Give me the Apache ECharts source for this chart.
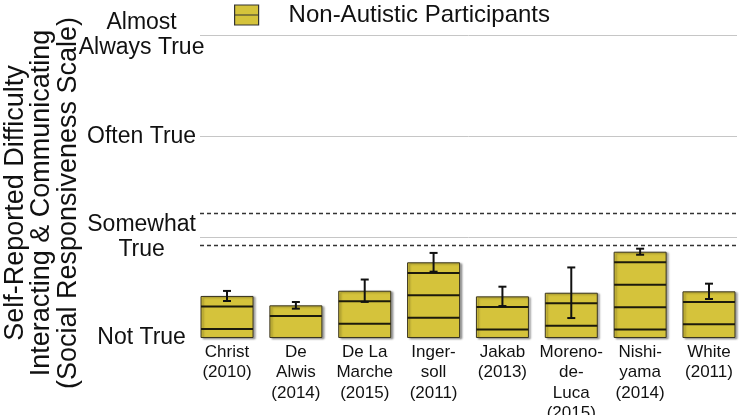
<!DOCTYPE html>
<html>
<head>
<meta charset="utf-8">
<script src="https://cdn.jsdelivr.net/npm/echarts@6/dist/echarts.min.js"></script>
<style>
html,body{margin:0;padding:0;background:#fff;}
#chart{width:739px;height:415px;}
</style>
</head>
<body>
<div id="chart"></div>
<script>
// ---- data ----
const seriesName = 'Non-Autistic Participants';
const categories = ['Christ\n(2010)', 'De\nAlwis\n(2014)', 'De La\nMarche\n(2015)', 'Inger-\nsoll\n(2011)', 'Jakab\n(2013)', 'Moreno-\nde-\nLuca\n(2015)', 'Nishi-\nyama\n(2014)', 'White\n(2011)'];
const means = [0.417, 0.324, 0.469, 0.751, 0.413, 0.449, 0.856, 0.463];
const errors = [0.05, 0.033, 0.111, 0.093, 0.096, 0.251, 0.03, 0.076];
const yTickLabels = ['Not True', 'Somewhat\nTrue', 'Often True', 'Almost\nAlways True'];
const gridValues = [1, 2, 3];
const thresholdValues = [0.918, 1.235];
const yTitle = 'Self-Reported Difficulty\nInteracting & Communicating\n(Social Responsiveness Scale)';

// ---- style constants ----
const FONT = '"Liberation Sans", Arial, Helvetica, sans-serif';
const BAR_FRACTION = 0.77;
const STRIPE_OFFSET = 0.105;
const STRIPE_STEP = 0.2225;
const STRIPE_MIN = 0.04;
const LINE_X0 = 200, LINE_X1 = 737;

const chart = echarts.init(document.getElementById('chart'), null, {renderer: 'canvas'});

function renderOverlay(params, api) {
  const i = api.value(0), v = api.value(1), e = api.value(2);
  const c = api.coord([i, 0]);
  const bw = api.size([1, 0])[0] * BAR_FRACTION;
  const x0 = c[0] - bw / 2 + 0.5, x1 = c[0] + bw / 2 - 0.5;
  const children = [];
  for (let y = v - STRIPE_OFFSET; y > STRIPE_MIN; y -= STRIPE_STEP) {
    const p = api.coord([i, y]);
    children.push({type: 'line', shape: {x1: x0, y1: p[1], x2: x1, y2: p[1]}, style: {stroke: '#1c1a0c', lineWidth: 2}});
  }
  const pt = api.coord([i, v + e]), pb = api.coord([i, v - e]);
  const cap = 4;
  children.push({type: 'line', shape: {x1: c[0], y1: pt[1], x2: c[0], y2: pb[1]}, style: {stroke: '#111', lineWidth: 2}});
  children.push({type: 'line', shape: {x1: c[0] - cap, y1: pt[1], x2: c[0] + cap, y2: pt[1]}, style: {stroke: '#111', lineWidth: 2}});
  children.push({type: 'line', shape: {x1: c[0] - cap, y1: pb[1], x2: c[0] + cap, y2: pb[1]}, style: {stroke: '#111', lineWidth: 2}});
  return {type: 'group', children: children};
}

const markData = [];
gridValues.forEach(v => markData.push([{x: LINE_X0, yAxis: v, lineStyle: {color: '#c6c6c6', width: 1, type: 'solid'}}, {x: LINE_X1, yAxis: v}]));
thresholdValues.forEach(v => markData.push([{x: LINE_X0, yAxis: v, lineStyle: {color: '#333', width: 1.3, type: [4, 3]}}, {x: LINE_X1, yAxis: v}]));

const option = {
  animation: false,
  backgroundColor: '#fff',
  textStyle: {fontFamily: FONT},
  grid: {left: 192.6, right: -4.4, top: 35.6, bottom: 77, outerBoundsMode: 'none', containLabel: false},
  legend: {
    data: [seriesName], left: 234, top: 3, padding: 0,
    icon: 'path://M0,0H24V20H0ZM0,10H24',
    itemWidth: 24, itemHeight: 20,
    itemStyle: {borderColor: '#333', borderWidth: 1.2, shadowBlur: 0, shadowOffsetX: 0, shadowOffsetY: 0},
    textStyle: {fontSize: 24, color: '#111', fontFamily: FONT, padding: [0, 0, 0, 25]}
  },
  graphic: [{
    type: 'text', x: 42, y: 203, rotation: Math.PI / 2,
    style: {text: yTitle, fontSize: 27, lineHeight: 26.5, fontFamily: FONT, fill: '#111', align: 'center', verticalAlign: 'middle'}
  }],
  xAxis: {
    type: 'category', data: categories,
    axisLine: {show: false}, axisTick: {show: false},
    axisLabel: {interval: 0, fontSize: 17, lineHeight: 20.5, color: '#111', margin: 4, fontFamily: FONT}
  },
  yAxis: {
    type: 'value', min: 0, max: 3, interval: 1,
    splitLine: {show: false}, axisLine: {show: false}, axisTick: {show: false},
    axisLabel: {
      formatter: (val) => yTickLabels[Math.round(val)],
      align: 'center', margin: 51, fontSize: 23, lineHeight: 25, color: '#111', fontFamily: FONT
    }
  },
  series: [
    {
      name: seriesName, type: 'bar', data: means, barWidth: (BAR_FRACTION * 100) + '%', z: 2,
      itemStyle: {color: '#d5c33b', borderColor: '#3a3520', borderWidth: 1, shadowColor: 'rgba(0,0,0,0.35)', shadowBlur: 2, shadowOffsetX: 2, shadowOffsetY: 1}
    },
    {
      type: 'custom', z: 3, renderItem: renderOverlay,
      encode: {x: 0, y: 1},
      data: means.map((m, i) => [i, m, errors[i]])
    },
    {
      type: 'line', data: [], z: 1,
      markLine: {silent: true, symbol: 'none', label: {show: false}, data: markData}
    }
  ]
};
chart.setOption(option);
</script>
</body>
</html>
